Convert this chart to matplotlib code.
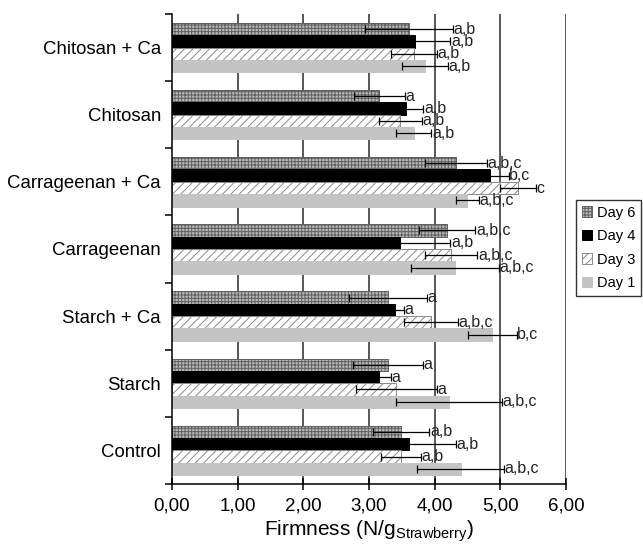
import matplotlib
matplotlib.use("Agg")
import matplotlib.pyplot as plt
import numpy as np
from matplotlib.patches import Patch

plt.rcParams['font.family'] = ['Liberation Sans', 'DejaVu Sans']
plt.rcParams['hatch.linewidth'] = 0.7

categories = ["Chitosan + Ca", "Chitosan", "Carrageenan + Ca", "Carrageenan",
              "Starch + Ca", "Starch", "Control"]
series = ["Day 6", "Day 4", "Day 3", "Day 1"]

day6 = [3.61, 3.16, 4.33, 4.19, 3.29, 3.29, 3.49]
day4 = [3.70, 3.56, 4.85, 3.48, 3.39, 3.15, 3.61]
day3 = [3.69, 3.48, 5.27, 4.25, 3.94, 3.42, 3.49]
day1 = [3.85, 3.68, 4.50, 4.31, 4.88, 4.22, 4.40]

err6 = [0.67, 0.39, 0.47, 0.43, 0.59, 0.53, 0.43]
err4 = [0.54, 0.27, 0.28, 0.76, 0.14, 0.18, 0.71]
err3 = [0.35, 0.33, 0.27, 0.40, 0.41, 0.62, 0.30]
err1 = [0.35, 0.27, 0.18, 0.67, 0.37, 0.80, 0.66]

lab6 = ["a,b", "a", "a,b,c", "a,b,c", "a", "a", "a,b"]
lab4 = ["a,b", "a,b", "b,c", "a,b", "a", "a", "a,b"]
lab3 = ["a,b", "a,b", "c", "a,b,c", "a,b,c", "a", "a,b"]
lab1 = ["a,b", "a,b", "a,b,c", "a,b,c", "b,c", "a,b,c", "a,b,c"]

xticks = [0, 1, 2, 3, 4, 5, 6]
xticklabels = ["0,00", "1,00", "2,00", "3,00", "4,00", "5,00", "6,00"]

fig = plt.figure(figsize=(6.43, 5.46), dpi=100)
ax = fig.add_axes([0.2675, 0.1136, 0.6125, 0.8608])

n = len(categories)
ypos = np.arange(n)[::-1].astype(float)
h = 0.184
offsets = [1.5 * h, 0.5 * h, -0.5 * h, -1.5 * h]

styles = [
    dict(facecolor="#b8b8b8", edgecolor="#606060", hatch="+++++", linewidth=0.7),
    dict(facecolor="black", edgecolor="black", linewidth=0.7),
    dict(facecolor="white", edgecolor="#8a8a8a", hatch="////", linewidth=0.7),
    dict(facecolor="#c4c4c4", edgecolor="#c4c4c4", linewidth=0.7),
]
vals = [day6, day4, day3, day1]
errs = [err6, err4, err3, err1]
labs = [lab6, lab4, lab3, lab1]

for x in xticks[1:]:
    ax.axvline(x, color="#2a2a2a", linewidth=1.1, zorder=1)

for k in range(4):
    yy = ypos + offsets[k]
    ax.barh(yy, vals[k], height=h, zorder=2, **styles[k])
    ax.errorbar(vals[k], yy, xerr=errs[k], fmt="none", ecolor="black",
                elinewidth=0.9, capsize=3, capthick=0.9, zorder=3)
    for v, e, y, t in zip(vals[k], errs[k], yy, labs[k]):
        ax.text(v + e + 0.01, y, t, va="center", ha="left", fontsize=11.5,
                color="#222222", zorder=4)

ax.set_xlim(0, 6)
ax.set_ylim(-0.5, n - 0.5)
ax.set_xticks(xticks)
ax.set_xticklabels(xticklabels, fontsize=13.5)
ax.tick_params(axis="x", direction="inout", length=9, width=1.1, pad=5)

ax.set_yticks(np.arange(n + 1) - 0.5)
ax.set_yticklabels([])
ax.set_yticks(ypos, minor=True)
ax.set_yticklabels(categories, minor=True, fontsize=13.4)
ax.tick_params(axis="y", which="major", direction="out", length=5, width=1.1)
ax.tick_params(axis="y", which="minor", length=0, pad=8)

ax.spines["top"].set_visible(False)
ax.spines["right"].set_visible(False)
ax.spines["left"].set_linewidth(1.1)
ax.spines["bottom"].set_linewidth(1.1)

ax.set_xlabel("Firmness (N/g$_{\\mathregular{Strawberry}}$)", fontsize=15, labelpad=3)

handles = [Patch(**styles[k], label=series[k]) for k in range(4)]
leg = fig.legend(handles=handles, loc="upper right", bbox_to_anchor=(0.997, 0.634),
                 fontsize=10.5, frameon=True, fancybox=False, edgecolor="black",
                 handlelength=0.7, handleheight=0.7, handletextpad=0.3,
                 borderpad=0.4, labelspacing=0.65, borderaxespad=0)
leg.get_frame().set_linewidth(1.0)

fig.savefig("out.png", dpi=100)
